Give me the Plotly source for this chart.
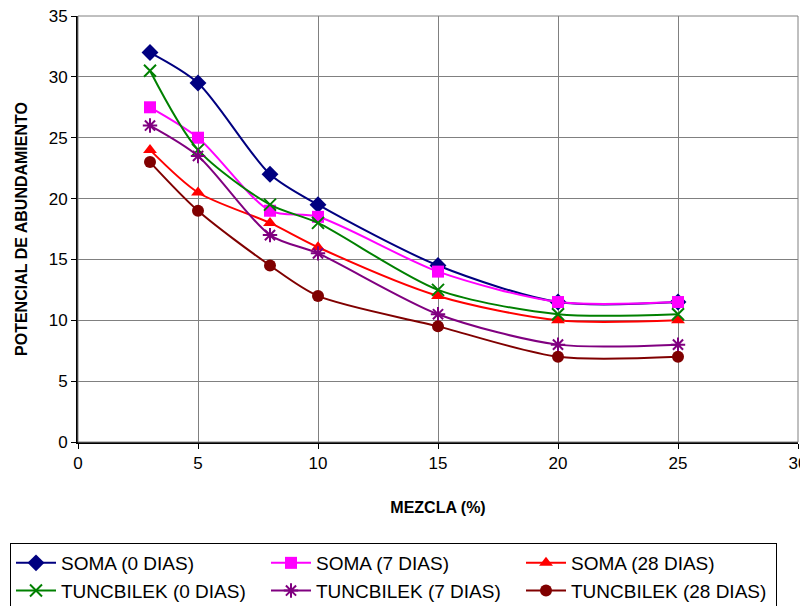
import plotly.graph_objects as go

mezcla = [3, 5, 8, 10, 15, 20, 25]
soma_0 = [32, 29.5, 22, 19.5, 14.5, 11.5, 11.5]
soma_7 = [27.5, 25, 19, 18.5, 14, 11.5, 11.5]
soma_28 = [24, 20.5, 18, 16, 12, 10, 10]
tunc_0 = [30.5, 24, 19.5, 18, 12.5, 10.5, 10.5]
tunc_7 = [26, 23.5, 17, 15.5, 10.5, 8, 8]
tunc_28 = [23, 19, 14.5, 12, 9.5, 7, 7]

series = [
    ("SOMA (0 DIAS)", soma_0, "#000080", "diamond", 13, 0),
    ("SOMA (7 DIAS)", soma_7, "#FF00FF", "square", 12, 0),
    ("SOMA (28 DIAS)", soma_28, "#FF0000", "triangle-up", 12, 0),
    ("TUNCBILEK (0 DIAS)", tunc_0, "#008000", "x-thin", 12, 2),
    ("TUNCBILEK (7 DIAS)", tunc_7, "#800080", "asterisk", 12, 2),
    ("TUNCBILEK (28 DIAS)", tunc_28, "#800000", "circle", 12, 0),
]

fig = go.Figure()
for name, vals, color, sym, size, lw in series:
    fig.add_trace(go.Scatter(
        x=mezcla, y=vals, name=name, mode="lines+markers",
        line=dict(color=color, width=2, shape="spline", smoothing=0.8),
        marker=dict(symbol=sym, size=size, color=color,
                    line=dict(color=color, width=lw)),
    ))

font = "Liberation Sans, Arial, sans-serif"
W, H = 808, 598
L, R, T, B = 70, 18, 8, 164
PW, PH = W - L - R, H - T - B
fig.update_layout(
    width=W, height=H,
    margin=dict(l=L, r=R, t=T, b=B, autoexpand=False),
    paper_bgcolor="white", plot_bgcolor="white",
    font=dict(family=font, size=17, color="black"),
    xaxis=dict(range=[0, 30], dtick=5, showgrid=True, gridcolor="#808080", gridwidth=1,
               showline=True, linecolor="black", linewidth=2, mirror=False,
               ticks="outside", ticklen=5, tickcolor="black", zeroline=False,
               tickfont=dict(size=17), automargin=False, ticklabeloverflow="allow",
               title=dict(text="<b>MEZCLA (%)</b>", font=dict(size=16), standoff=29)),
    yaxis=dict(range=[0, 35], dtick=5, showgrid=True, gridcolor="#808080", gridwidth=1,
               showline=True, linecolor="black", linewidth=2, mirror=False,
               ticks="outside", ticklen=5, tickcolor="black", zeroline=False,
               tickfont=dict(size=17), automargin=False, ticklabeloverflow="allow",
               title=dict(text="<b>POTENCIAL DE ABUNDAMIENTO</b>", font=dict(size=16), standoff=17)),
    legend=dict(orientation="h",
                x=(2 - L) / PW, xanchor="left", y=(T + PH - 535) / PH, yanchor="top",
                bordercolor="black", borderwidth=1, font=dict(size=19),
                entrywidth=200, entrywidthmode="pixels", tracegroupgap=0,
                itemwidth=40),
    shapes=[dict(type="rect", xref="paper", yref="paper", x0=0, x1=1, y0=0, y1=1,
                 line=dict(color="#808080", width=1))],
)

fig.write_html("out.html")
